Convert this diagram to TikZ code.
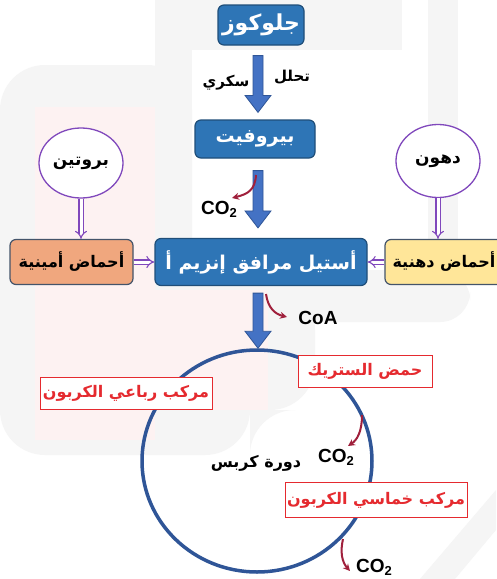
\documentclass[tikz,border=0pt]{standalone}
\usepackage{fontspec}
\setmainfont{Liberation Sans}
\newfontfamily\arfont[Script=Arabic]{DejaVu Sans}
\TeXXeTstate=1
\usetikzlibrary{calc,arrows.meta,shapes.geometric}
\definecolor{boxblue}{HTML}{2E75B6}
\definecolor{boxedge}{HTML}{1F4E79}
\definecolor{arrblue}{HTML}{4472C4}
\definecolor{arredge}{HTML}{2F5597}
\definecolor{purp}{HTML}{8048BC}
\definecolor{orng}{HTML}{F0A77E}
\definecolor{yel}{HTML}{FFE699}
\definecolor{slate}{HTML}{44546A}
\definecolor{lred}{HTML}{E52A2F}
\definecolor{dred}{HTML}{A0203C}
\definecolor{wmgray}{HTML}{F5F5F5}
\definecolor{wmpink}{HTML}{FDF2F2}
\newcommand{\AR}[1]{{\arfont\bfseries\beginR #1\endR}}
\newcommand{\COtwo}{\textbf{CO\raisebox{-3pt}{\fontsize{13}{13}\selectfont 2}}}
\tikzset{
  bluebox/.style={draw=boxedge, line width=1.2pt, fill=boxblue, rounded corners=6pt,
    text=white, font=\fontsize{19}{22}\selectfont, inner sep=0pt},
  sidebox/.style={draw=slate, line width=1.2pt, rounded corners=6pt,
    font=\fontsize{16}{19}\selectfont, inner sep=0pt, minimum height=45pt},
  source/.style={ellipse, draw=purp, line width=1.3pt, fill=white,
    font=\fontsize{17}{20}\selectfont, inner sep=0pt},
  redlabel/.style={draw=lred, line width=1pt, fill=white, text=lred,
    font=\fontsize{16}{19}\selectfont, inner sep=0pt},
  plain/.style={font=\fontsize{15}{18}\selectfont, inner sep=0pt},
  formula/.style={font=\fontsize{19}{22}\selectfont, inner sep=0pt},
  hollow/.style={draw=purp, double=white, double distance=3pt, line width=1.1pt,
    -{Implies[length=7pt,width=13pt]}},
  barrow/.style={fill=arrblue, draw=arredge, line width=0.8pt, line join=miter},
  release/.style={draw=dred, line width=2pt, -{Stealth[length=7pt,width=7pt]}},
  cycle/.style={draw=arredge, line width=3.5pt}
}
\newcommand{\blockarrow}[2]{%
  \path[barrow] let \p1=(#1), \p2=(#2) in
    (\x1-5pt,\y1) -- (\x1+5pt,\y1) -- (\x1+5pt,\y2+17pt) -- (\x1+13pt,\y2+17pt)
    -- (\x1,\y2) -- (\x1-13pt,\y2+17pt) -- (\x1-5pt,\y2+17pt) -- cycle;}
\begin{document}
\begin{tikzpicture}[x=1pt,y=-1pt]
\useasboundingbox (0,0) rectangle (496,579);
\fill[white] (0,0) rectangle (496,579);
% faint watermark
\fill[wmgray] (155,0) rectangle (402,50);
\fill[wmgray] (155,0) rectangle (192,290);
\fill[wmgray] (428,0) rectangle (458,300);
\fill[wmgray, rounded corners=45pt] (0,65) -- (192,65) -- (192,285) -- (315,285) -- (315,410) -- (250,410) -- (250,455) -- (0,455) -- cycle;
\fill[wmgray, rounded corners=30pt] (150,270) -- (470,270) -- (470,322) -- (150,322) -- cycle;
\fill[wmpink] (35,107) rectangle (155,440);
\fill[wmpink] (155,290) rectangle (268,410);
\fill[wmgray] (420,579) -- (496,490) -- (496,530) -- (455,579) -- cycle;

\coordinate (axis) at (258,0);
% main chain
\node[bluebox, minimum width=86pt, minimum height=40pt, font=\fontsize{22}{24}\selectfont] (glu) at (261,25) {\AR{جلوكوز}};
\node[bluebox, minimum width=120pt, minimum height=38pt] (pyr) at (255,139) {\AR{بيروفيت}};
\node[bluebox, minimum width=212pt, minimum height=47pt] (acet) at (261,262) {\AR{أستيل مرافق إنزيم أ}};
\node[sidebox, fill=orng, minimum width=123pt] (amino) at (71.5,262) {\AR{أحماض أمينية}};
\node[sidebox, fill=yel, minimum width=118pt] (fatty) at (444,262) {\AR{أحماض دهنية}};
\node[source, minimum width=84pt, minimum height=70pt] (prot) at (81,163) {\AR{بروتين}};
\node[source, minimum width=84pt, minimum height=73pt] (fats) at (438,161) {\AR{دهون}};

\node[plain] (tahal) at (292,77) {\AR{تحلل}};
\node[plain] (sukri) at (226,83) {\AR{سكري}};

\coordinate (a1s) at ($(glu.south -| axis)+(0,10)$);
\coordinate (a1e) at ($(pyr.north -| axis)+(0,-7)$);
\coordinate (a2s) at ($(pyr.south -| axis)+(0,12)$);
\coordinate (a2e) at ($(acet.north -| axis)+(0,-10)$);
\coordinate (a3s) at ($(acet.south -| axis)+(0,7)$);
\blockarrow{a1s}{a1e}
\blockarrow{a2s}{a2e}

% Krebs cycle
\node[ellipse, cycle, minimum width=230pt, minimum height=222pt, inner sep=0pt] (krebs) at (257,461) {};
\blockarrow{a3s}{krebs.north}
\node[plain, font=\fontsize{16}{19}\selectfont] (krlabel) at (256,463) {\AR{دورة كربس}};
\node[redlabel, minimum width=134pt, minimum height=32pt] (citric) at (365,371) {\AR{حمض الستريك}};
\node[redlabel, minimum width=172pt, minimum height=32pt] (four) at (126,393) {\AR{مركب رباعي الكربون}};
\node[redlabel, minimum width=182pt, minimum height=35pt] (five) at (376,500) {\AR{مركب خماسي الكربون}};

% hollow arrows
\draw[hollow] (prot.south) -- (amino.north -| prot.south);
\draw[hollow] (fats.south) -- (fatty.north -| fats.south);
\draw[hollow] (amino.east) -- (acet.west);
\draw[hollow] (fatty.west) -- (acet.east);

% released molecules
\node[formula] (co2a) at (219,209) {\COtwo};
\node[formula] (coa) at (318,318) {\textbf{CoA}};
\node[formula] (co2b) at (336,457) {\COtwo};
\node[formula] (co2c) at (374,567) {\COtwo};
\coordinate (r1) at (256,175);
\coordinate (r2) at (266,294);
\coordinate (r3) at (362,415);
\coordinate (r4) at (343,539);
\draw[release] (r1) .. controls (255,190) and (248,194) .. (232,198);
\draw[release] (r2) .. controls (268,308) and (275,314) .. (287,317);
\draw[release] (r3) .. controls (362,432) and (357,440) .. (348,446);
\draw[release] (r4) .. controls (340,552) and (342,562) .. (350,571);
\end{tikzpicture}
\end{document}
